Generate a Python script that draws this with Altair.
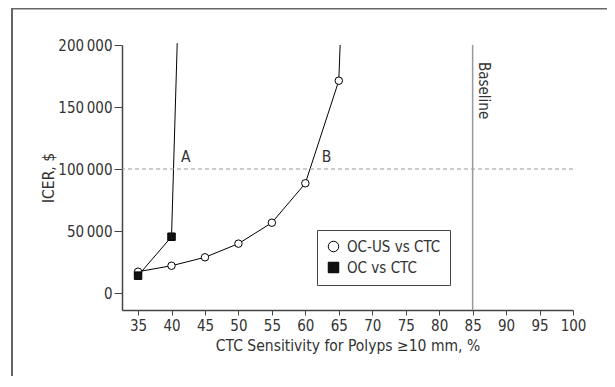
import altair as alt
import pandas as pd

# ---- data ----
series_names = ["OC-US vs CTC", "OC vs CTC"]

sens_ocus = [35, 40, 45, 50, 55, 60, 65, 65.2]
icer_ocus = [17200, 22000, 28800, 39800, 56700, 88500, 171200, 200000]
mark_ocus = [True, True, True, True, True, True, True, False]

sens_oc = [35, 40, 40.85]
icer_oc = [14000, 45400, 201500]
mark_oc = [True, True, False]

x_ticks = list(range(35, 101, 5))
y_ticks = [0, 50000, 100000, 150000, 200000]
threshold = 100000
baseline_x = 85
label_text = ["A", "B"]
label_x = [41.4, 62.45]

FONT = "Liberation Sans Narrow, DejaVu Sans Condensed, Arial Narrow, sans-serif"

rows = []
for i, (s, v, m) in enumerate(zip(sens_ocus, icer_ocus, mark_ocus)):
    rows.append({"series": series_names[0], "sens": s, "icer": v, "marker": m, "idx": i})
for i, (s, v, m) in enumerate(zip(sens_oc, icer_oc, mark_oc)):
    rows.append({"series": series_names[1], "sens": s, "icer": v, "marker": m, "idx": i})
df = pd.DataFrame(rows)

xscale = alt.Scale(domain=[32.6, 100], nice=False, zero=False)
yscale = alt.Scale(domain=[-13700, 200000], nice=False, zero=False)

x_axis = alt.Axis(values=x_ticks, title="CTC Sensitivity for Polyps \u226510 mm, %",
                  tickSize=5, labelPadding=3, titlePadding=5, grid=False, labelOverlap=False,
                  labelFlush=False)
y_axis = alt.Axis(values=y_ticks, title="ICER, $", tickSize=8, labelPadding=2,
                  titlePadding=1, grid=False, labelOverlap=False, labelFlush=False,
                  labelExpr="replace(format(datum.value, ','), ',', '\u2009')")

base = alt.Chart(df)

lines = base.mark_line(color="black", strokeWidth=1).encode(
    x=alt.X("sens:Q", scale=xscale, axis=x_axis),
    y=alt.Y("icer:Q", scale=yscale, axis=y_axis),
    detail="series:N", order="idx:Q")

leg = alt.Legend(title=None)
points = base.transform_filter("datum.marker").mark_point(
    filled=True, size=56, strokeWidth=1, opacity=1).encode(
    x=alt.X("sens:Q", scale=xscale, axis=x_axis),
    y=alt.Y("icer:Q", scale=yscale, axis=y_axis),
    shape=alt.Shape("series:N", scale=alt.Scale(domain=series_names, range=["circle", "square"]),
                    legend=leg),
    fill=alt.Fill("series:N", scale=alt.Scale(domain=series_names, range=["white", "#111"]),
                  legend=leg),
    stroke=alt.Stroke("series:N", scale=alt.Scale(domain=series_names, range=["black", "black"]),
                      legend=leg),
)

ref_df = pd.DataFrame({"t": [threshold], "b": [baseline_x]})
hline = alt.Chart(ref_df).mark_rule(color="#999", strokeWidth=1, strokeDash=[4, 3]).encode(
    y=alt.Y("t:Q", scale=yscale, axis=y_axis))
vline = alt.Chart(ref_df).mark_rule(color="#999", strokeWidth=1.5).encode(
    x=alt.X("b:Q", scale=xscale, axis=x_axis))

base_text = alt.Chart(pd.DataFrame({"b": [baseline_x], "top": [200000], "txt": ["Baseline"]})).mark_text(
    angle=90, align="left", baseline="bottom", fontSize=15, font=FONT, color="#333",
    dx=17, dy=-3).encode(
    x=alt.X("b:Q", scale=xscale, axis=x_axis),
    y=alt.Y("top:Q", scale=yscale, axis=y_axis), text="txt:N")

lab_df = pd.DataFrame({"x": label_x, "y": [threshold, threshold], "txt": label_text})
ab_text = alt.Chart(lab_df).mark_text(
    align="left", baseline="bottom", fontSize=15.5, font=FONT, color="#333", dy=-4).encode(
    x=alt.X("x:Q", scale=xscale, axis=x_axis),
    y=alt.Y("y:Q", scale=yscale, axis=y_axis), text="txt:N")

one = pd.DataFrame({"a": [0]})
frame_top = alt.Chart(one).mark_rule(color="#666", strokeWidth=2).encode(
    x=alt.value(-110), x2=alt.value(500), y=alt.value(-36.5))
frame_left = alt.Chart(one).mark_rule(color="#666", strokeWidth=2).encode(
    x=alt.value(-110), y=alt.value(-37), y2=alt.value(340))

chart = alt.layer(lines, frame_top, frame_left, hline, vline, points, base_text, ab_text).properties(
    width=451, height=265,
    autosize=alt.AutoSizeParams(type="none"),
    padding={"left": 114, "top": 37, "right": 34, "bottom": 66},
).configure_view(stroke=None).configure_axis(
    domainColor="#444", domainWidth=1.5, tickColor="#444", tickWidth=1,
    labelFont=FONT, titleFont=FONT, labelFontSize=15, titleFontSize=15.5,
    labelColor="#333", titleColor="#333", titleFontWeight="normal",
).configure_legend(
    orient="none", legendX=195, legendY=185, strokeColor="#444", fillColor="white",
    padding=9, labelFont=FONT, labelFontSize=15, labelColor="#333", symbolSize=110,
    symbolStrokeColor="black", symbolStrokeWidth=1, rowPadding=5, labelOffset=6,
    cornerRadius=0,
)

chart.save("out.html", embed_options={"renderer": "svg", "actions": False})
